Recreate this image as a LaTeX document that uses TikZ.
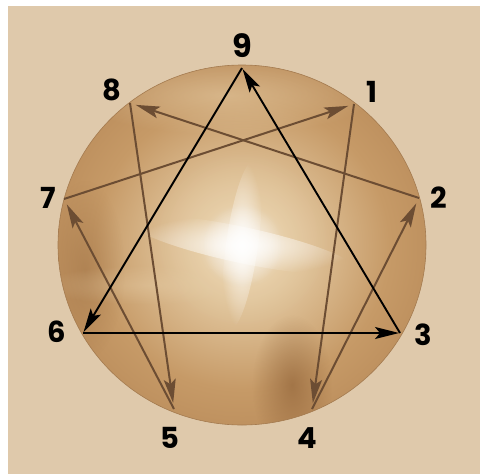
\documentclass[tikz,border=0pt]{standalone}
\usepackage{fontspec}
\newfontfamily\labfont{Poppins}
\usetikzlibrary{arrows.meta,fadings}
\definecolor{bg}{HTML}{DFC9AB}
\definecolor{discedge}{HTML}{B08050}
\definecolor{discmid}{HTML}{C69A67}
\definecolor{disclight}{HTML}{E6CDA6}
\definecolor{discdark}{HTML}{8C5E34}
\definecolor{discrim}{HTML}{A47B50}
\definecolor{brownline}{HTML}{6C4D33}
\pgfdeclareradialshading{discshade}{\pgfpoint{0bp}{0bp}}{%
  color(0bp)=(white);
  color(6bp)=(disclight);
  color(20bp)=(discmid);
  color(35bp)=(discedge);
  color(50bp)=(discedge)}
\tikzfading[name=glowfade, inner color=transparent!0, outer color=transparent!100]
\tikzset{
  lab/.style={font=\labfont\bfseries\fontsize{29}{29}\selectfont, text=black, inner sep=0pt},
  blackarr/.style={draw=black, line width=1.9pt, shorten >=1pt,
    -{Stealth[length=24pt,width=12pt,inset=5pt]}},
  brownarr/.style={draw=brownline, line width=2pt, shorten >=6pt,
    -{Stealth[length=24pt,width=12pt,inset=5pt]}}
}
\begin{document}
\begin{tikzpicture}[x=1pt,y=-1pt]
\useasboundingbox (0,0) rectangle (484,474);
\fill[white] (0,0) rectangle (484,474);
\fill[bg] (8,6) rectangle (480,474);
% disc
\begin{scope}
  \clip (242,245) ellipse (184 and 180);
  \shade[shading=discshade] (242,245) ellipse (184 and 180);
  \fill[disclight, path fading=glowfade, opacity=0.55] (225,95) ellipse (150 and 40);
  \fill[discdark, path fading=glowfade, opacity=0.6] (292,385) ellipse (40 and 70);
  \fill[discdark, path fading=glowfade, opacity=0.35] (85,270) ellipse (40 and 90);
  \fill[disclight, path fading=glowfade, opacity=0.4] (150,285) ellipse (110 and 20);
  \fill[disclight, path fading=glowfade, opacity=0.6] (242,240) circle (90);
  \fill[white, path fading=glowfade, opacity=0.8, rotate around={-12:(242,245)}] (242,245) ellipse (115 and 18);
  \fill[white, path fading=glowfade, opacity=0.75, rotate around={-8:(242,245)}] (242,245) ellipse (16 and 85);
  \fill[white, path fading=glowfade, opacity=0.8] (242,245) circle (40);
\end{scope}
\draw[discrim, line width=0.6pt] (242,245) ellipse (184 and 180);
% vertices
\coordinate (p9) at (242,68);
\coordinate (p1) at (354,104);
\coordinate (p2) at (419,198);
\coordinate (p3) at (400,333);
\coordinate (p4) at (312,409);
\coordinate (p5) at (174,409);
\coordinate (p6) at (83,333);
\coordinate (p7) at (64,199);
\coordinate (p8) at (130,103);
% brown hexad
\draw[brownarr] (p1) -- (p4);
\draw[brownarr] (p4) -- (p2);
\draw[brownarr] (p2) -- (p8);
\draw[brownarr] (p8) -- (p5);
\draw[brownarr] (p5) -- (p7);
\draw[brownarr] (p7) -- (p1);
% black triangle
\draw[blackarr] (p9) -- (p6);
\draw[blackarr] (p6) -- (p3);
\draw[blackarr] (p3) -- (p9);
% labels
\node[lab, font=\labfont\bfseries\fontsize{32}{32}\selectfont] (l9) at (242,46) {9};
\node[lab] (l1) at (372,92) {1};
\node[lab] (l2) at (439,198) {2};
\node[lab] (l3) at (423,335) {3};
\node[lab] (l4) at (307,438) {4};
\node[lab] (l5) at (170,438) {5};
\node[lab] (l6) at (57,332) {6};
\node[lab] (l7) at (48,198) {7};
\node[lab] (l8) at (112,90) {8};
\end{tikzpicture}
\end{document}
